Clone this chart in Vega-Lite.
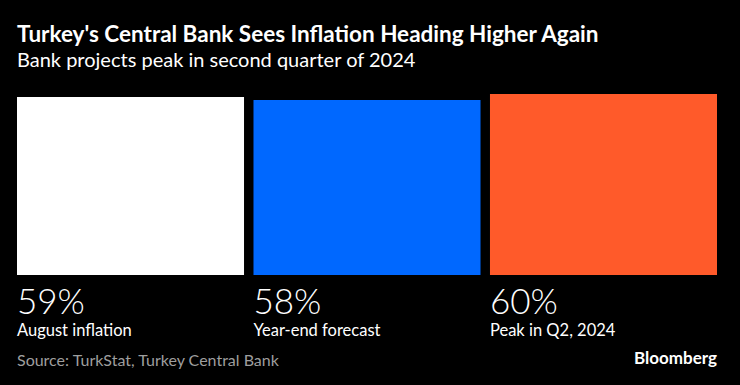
{
  "$schema": "https://vega.github.io/schema/vega-lite/v6.json",
  "width": 700,
  "height": 181,
  "autosize": {"type": "none"},
  "padding": {"left": 17, "top": 94, "right": 23, "bottom": 110},
  "background": "#000000",
  "title": {
    "text": "Turkey's Central Bank Sees Inflation Heading Higher Again",
    "subtitle": "Bank projects peak in second quarter of 2024",
    "anchor": "start",
    "frame": "group",
    "offset": 23,
    "font": "Lato",
    "fontSize": 22.5,
    "fontWeight": "bold",
    "color": "#ffffff",
    "subtitleFont": "Lato",
    "subtitleFontSize": 20,
    "subtitleColor": "#ffffff",
    "subtitlePadding": 5
  },
  "config": {"view": {"stroke": null}},
  "data": {
    "values": [
      {"label": "August inflation", "value": 59, "pct": "59%"},
      {"label": "Year-end forecast", "value": 58, "pct": "58%"},
      {"label": "Peak in Q2, 2024", "value": 60, "pct": "60%"}
    ]
  },
  "encoding": {
    "x": {
      "field": "label",
      "type": "nominal",
      "sort": null,
      "scale": {"paddingInner": 0.04, "paddingOuter": 0},
      "axis": null
    }
  },
  "layer": [
    {
      "mark": {"type": "bar"},
      "encoding": {
        "y": {"field": "value", "type": "quantitative", "scale": {"domain": [0, 60]}, "axis": null},
        "color": {
          "field": "label",
          "type": "nominal",
          "sort": null,
          "scale": {"range": ["#ffffff", "#0068ff", "#ff5a2a"]},
          "legend": null
        }
      }
    },
    {
      "mark": {"type": "text", "align": "left", "baseline": "alphabetic", "dy": 39, "font": "Lato", "fontSize": 35, "fontWeight": 300, "color": "#ffffff"},
      "encoding": {
        "x": {"field": "label", "type": "nominal", "sort": null, "bandPosition": 0},
        "y": {"datum": 0, "type": "quantitative"},
        "text": {"field": "pct"}
      }
    },
    {
      "mark": {"type": "text", "align": "left", "baseline": "alphabetic", "dy": 60.5, "font": "Lato", "fontSize": 16.5, "color": "#ffffff"},
      "encoding": {
        "x": {"field": "label", "type": "nominal", "sort": null, "bandPosition": 0},
        "y": {"datum": 0, "type": "quantitative"},
        "text": {"field": "label"}
      }
    },
    {
      "data": {"values": [{"label": "August inflation", "note": "Source: TurkStat, Turkey Central Bank"}]},
      "mark": {"type": "text", "align": "left", "baseline": "alphabetic", "dy": 91, "font": "Lato", "fontSize": 16, "color": "#9e9e9e"},
      "encoding": {
        "x": {"field": "label", "type": "nominal", "sort": null, "bandPosition": 0},
        "y": {"datum": 0, "type": "quantitative"},
        "text": {"field": "note"}
      }
    },
    {
      "data": {"values": [{"label": "Peak in Q2, 2024", "note": "Bloomberg"}]},
      "mark": {"type": "text", "align": "right", "baseline": "alphabetic", "dy": 89, "font": "Lato", "fontSize": 17, "fontWeight": "bold", "color": "#ffffff"},
      "encoding": {
        "x": {"field": "label", "type": "nominal", "sort": null, "bandPosition": 1},
        "y": {"datum": 0, "type": "quantitative"},
        "text": {"field": "note"}
      }
    }
  ]
}
